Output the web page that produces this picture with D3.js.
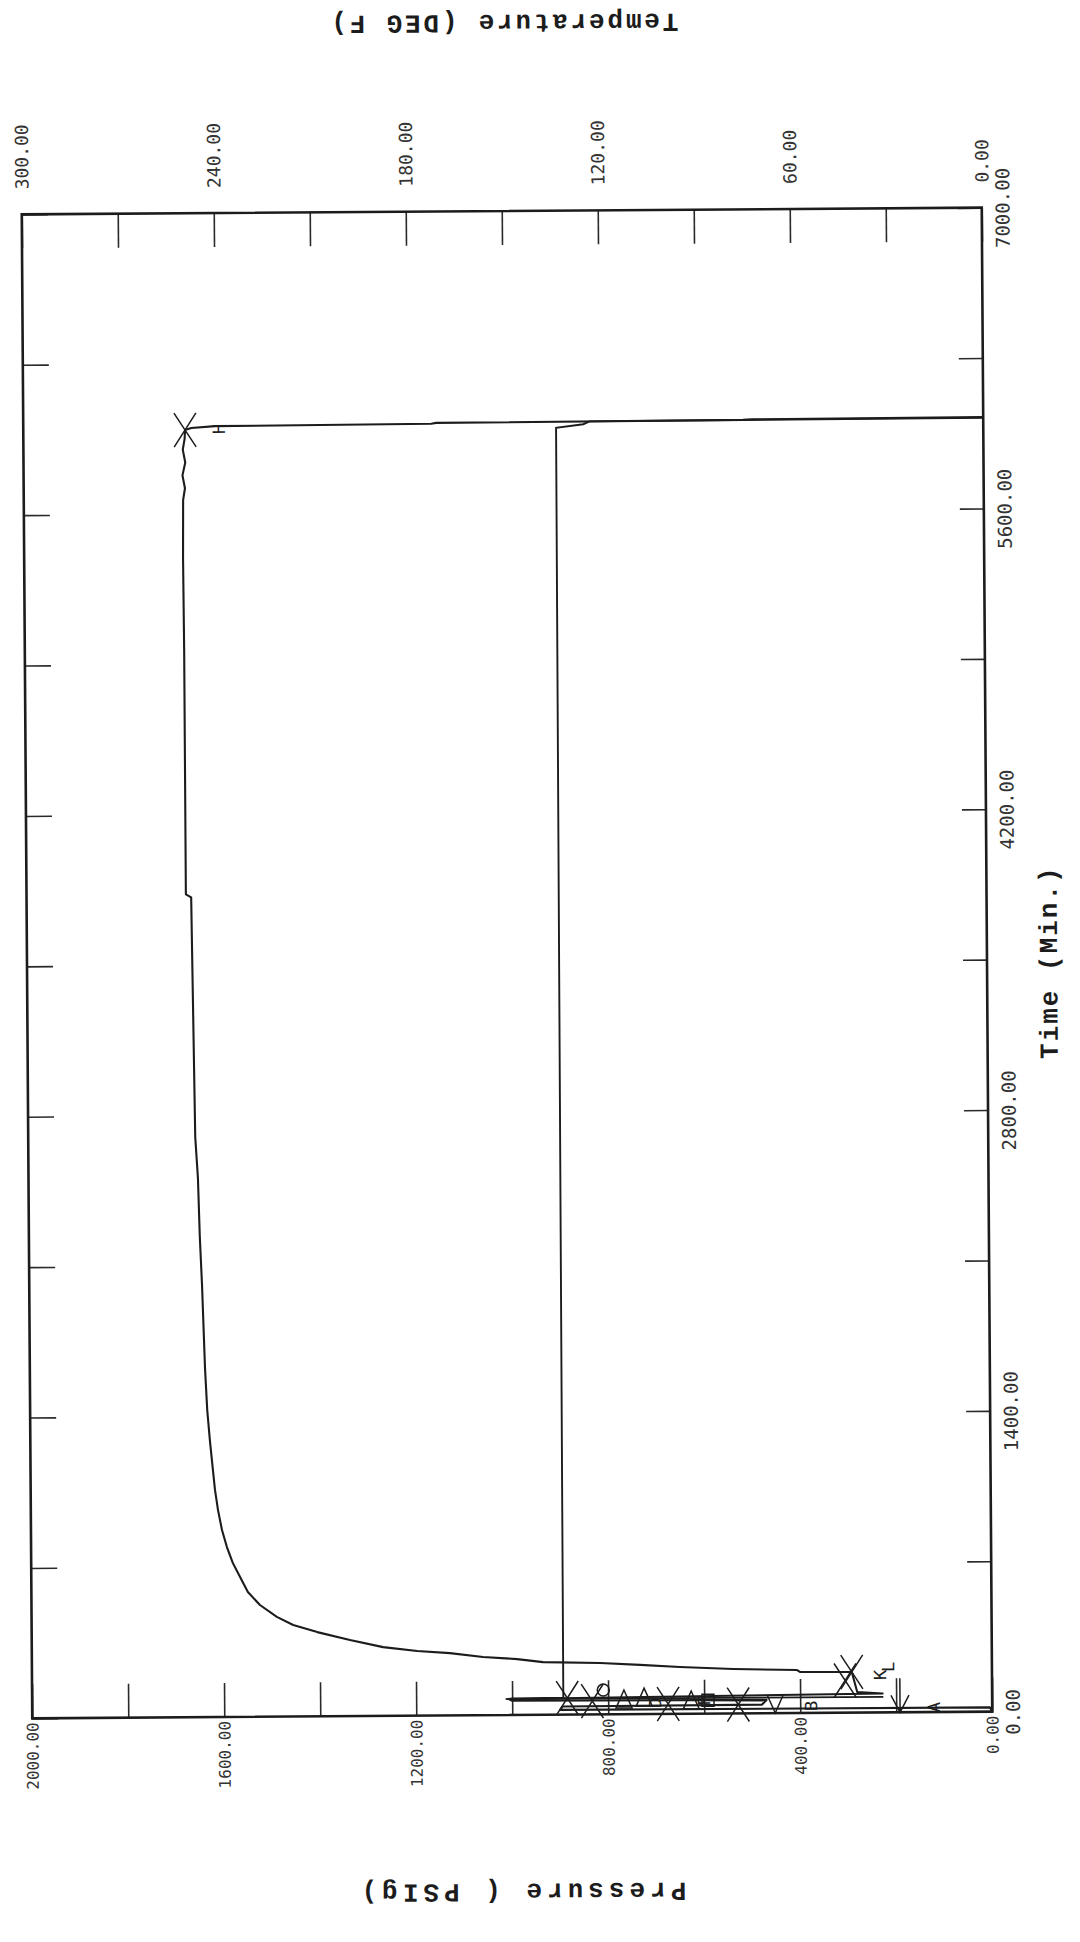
<!DOCTYPE html>
<html>
<head>
<meta charset="utf-8">
<script src="https://cdn.jsdelivr.net/npm/d3@7"></script>
<style>
  html, body { margin: 0; padding: 0; background: #fff; }
  svg { display: block; }
</style>
</head>
<body>
<div id="chart"></div>
<script>
// axis ticks
const timeTicks = d3.range(0, 7001, 700);        // Time (Min.)
const pressureTicks = d3.range(0, 2001, 200);    // Pressure (PSIg)
const tempTicks = d3.range(0, 301, 30);          // Temperature (DEG F)

// pressure trace
const pressureTime = [0, 20, 22, 38, 40, 62, 66, 72, 76, 88, 96, 189, 191, 200, 207, 218, 229, 239, 245, 260,
  271, 290, 301, 320, 354, 392, 426, 464, 520, 581, 651, 717, 791, 870, 963, 1057, 1196, 1290, 1429, 1623,
  2009, 2238, 2508, 2700, 3816, 3830, 4963, 5395, 5665, 5720, 5780, 5840, 5900, 5950, 5991, 6000, 6008, 6012,
  6016, 6020, 6022, 6025];
const pressureValue = [0, 5, 900, 895, 480, 470, 1000, 1005, 900, 228, 281, 292, 400, 406, 539, 650, 733, 816, 935, 989,
  1060, 1129, 1197, 1268, 1337, 1405, 1455, 1489, 1524, 1549, 1565, 1580, 1592, 1602, 1610, 1616, 1622, 1626, 1631, 1635,
  1640, 1644, 1647, 1652, 1657, 1668, 1668, 1669, 1668, 1664, 1669, 1663, 1668, 1664, 1663, 1650, 1600, 1150,
  1140, 500, 480, 0];

// temperature trace
const tempTime = [72, 74, 77, 79, 5989, 6005, 6018, 6022];
const tempValue = [34, 152, 150, 134, 133.5, 125, 123, 0];

// event markers (plotted on the pressure scale)
const markerTime = [5991, 189, 150, 77, 62, 113, 66, 74, 46, 59, 62, 41, 38, 0];
const markerPressure = [1663, 292, 306, 885, 833, 810, 767, 725, 675, 627, 592, 529, 452, 192];
const markerShape = ['x', 'x', 'x', 'x', 'x', 'circle', 'tri', 'tri', 'x', 'tri', 'square', 'x', 'v', 'arrow'];

// event letters
const labelTime = [5995, 23, 33, 174, 211, 51, 60];
const labelPressure = [1592, 121, 377, 233, 216, 702, 600];
const labelText = ['H', 'A', 'B', 'K', 'L', 'D', 'F'];

const width = 1080;
const height = 1942;
const margin = { top: 211, right: 93, bottom: 227, left: 27 };
const x0 = margin.left, x1 = width - margin.right;
const y0 = margin.top, y1 = height - margin.bottom;
const ink = '#1c1c1c';
const tickInk = '#2a2a2a';
const labelFont = '"DejaVu Sans Mono", monospace';
const titleFont = '"Liberation Mono", "Courier New", monospace';

const svg = d3.select('#chart')
  .append('svg')
  .attr('width', width)
  .attr('height', height)
  .style('background', '#ffffff');

// the sheet was scanned slightly crooked
const g = svg.append('g')
  .attr('transform', `rotate(-0.4,${(x0 + x1) / 2},${(y0 + y1) / 2})`);

const xP = d3.scaleLinear().domain([0, 2000]).range([x1, x0]);
const xT = d3.scaleLinear().domain([0, 300]).range([x1, x0]);
const yT = d3.scaleLinear().domain([0, 7000]).range([y1, y0]);
const fmt = d3.format('.2f');

const styleAxis = sel => sel
  .attr('font-family', labelFont)
  .call(s => s.select('.domain').remove())
  .call(s => s.selectAll('.tick line').attr('stroke', tickInk).attr('stroke-width', 1.6))
  .call(s => s.selectAll('.tick text').attr('fill', '#333'));

// pressure axis (bottom)
g.append('g')
  .attr('transform', `translate(0,${y1})`)
  .call(d3.axisBottom(xP).tickValues(pressureTicks).tickSize(-34).tickSizeOuter(0)
    .tickFormat(d => d % 400 === 0 ? fmt(d) : ''))
  .attr('font-size', 16)
  .call(styleAxis)
  .call(s => s.selectAll('.tick text')
    .attr('transform', 'rotate(-90)')
    .attr('x', -4).attr('y', 0).attr('dy', '0.35em')
    .attr('text-anchor', 'end'));

// temperature axis (top)
g.append('g')
  .attr('transform', `translate(0,${y0})`)
  .call(d3.axisTop(xT).tickValues(tempTicks).tickSize(-34).tickSizeOuter(0)
    .tickFormat(d => d % 60 === 0 ? fmt(d) : ''))
  .attr('font-size', 18)
  .call(styleAxis)
  .call(s => s.selectAll('.tick text')
    .attr('transform', 'rotate(-90)')
    .attr('x', 25).attr('y', 0).attr('dy', '0.35em')
    .attr('text-anchor', 'start'));

// time axis (right)
g.append('g')
  .attr('transform', `translate(${x1},0)`)
  .call(d3.axisRight(yT).tickValues(timeTicks).tickSize(-24).tickSizeOuter(0)
    .tickFormat(d => d % 1400 === 0 ? fmt(d) : ''))
  .attr('font-size', 19)
  .call(styleAxis)
  .call(s => s.selectAll('.tick text')
    .attr('transform', 'translate(21,0) rotate(-90)')
    .attr('x', 0).attr('dy', '0.35em')
    .attr('text-anchor', 'middle'));

// time ticks (left)
g.append('g')
  .attr('transform', `translate(${x0},0)`)
  .call(d3.axisLeft(yT).tickValues(timeTicks).tickSize(-26).tickSizeOuter(0).tickFormat(() => ''))
  .call(styleAxis);

g.append('rect')
  .attr('x', x0).attr('y', y0)
  .attr('width', x1 - x0).attr('height', y1 - y0)
  .attr('fill', 'none')
  .attr('stroke', ink)
  .attr('stroke-width', 2.6);

const pressurePts = pressureTime.map((t, i) => [t, pressureValue[i]]);
const tempPts = tempTime.map((t, i) => [t, tempValue[i]]);

g.append('path')
  .datum(tempPts)
  .attr('fill', 'none')
  .attr('stroke', ink)
  .attr('stroke-width', 1.9)
  .attr('d', d3.line().x(d => xT(d[1])).y(d => yT(d[0])));

g.append('path')
  .datum(pressurePts)
  .attr('fill', 'none')
  .attr('stroke', ink)
  .attr('stroke-width', 2.1)
  .attr('stroke-linejoin', 'round')
  .attr('d', d3.line().x(d => xP(d[1])).y(d => yT(d[0])));

const shapes = {
  x: 'M-11,-17L11,17M-11,17L11,-17',
  tri: 'M0,-10L8,8L-8,8Z',
  v: 'M-8,-10L0,8L8,-10',
  square: 'M-6,-6H6V6H-6Z',
  circle: 'M-6,0A6,6 0 1,0 6,0A6,6 0 1,0 -6,0',
  arrow: 'M0,0V-34M-9,-17L0,0L9,-17'
};

g.append('g')
  .selectAll('path')
  .data(markerTime.map((t, i) => ({ t, p: markerPressure[i], s: markerShape[i] })))
  .join('path')
  .attr('transform', d => `translate(${xP(d.p)},${yT(d.t)})`)
  .attr('d', d => shapes[d.s])
  .attr('fill', 'none')
  .attr('stroke', ink)
  .attr('stroke-width', 1.5);

g.append('g')
  .attr('font-family', labelFont)
  .attr('font-size', 17)
  .attr('fill', ink)
  .selectAll('text')
  .data(labelTime.map((t, i) => ({ t, p: labelPressure[i], s: labelText[i] })))
  .join('text')
  .attr('transform', d => `translate(${xP(d.p)},${yT(d.t)}) rotate(-90)`)
  .attr('text-anchor', 'middle')
  .attr('dy', '0.35em')
  .text(d => d.s);

// axis titles
const title = (x, y, angle, spacing, txt) => g.append('text')
  .attr('transform', `translate(${x},${y}) rotate(${angle})`)
  .attr('text-anchor', 'middle')
  .attr('dy', '0.35em')
  .attr('font-family', titleFont)
  .attr('font-weight', 'bold')
  .attr('font-size', 26)
  .attr('letter-spacing', spacing)
  .attr('fill', ink)
  .text(txt);

title(510, 24, 180, 2.8, 'Temperature (DEG F)');
title(515, 1893, 180, 5, 'Pressure ( PSIg)');
title(1048, 966, -90, 2, 'Time (Min.)');
</script>
</body>
</html>
